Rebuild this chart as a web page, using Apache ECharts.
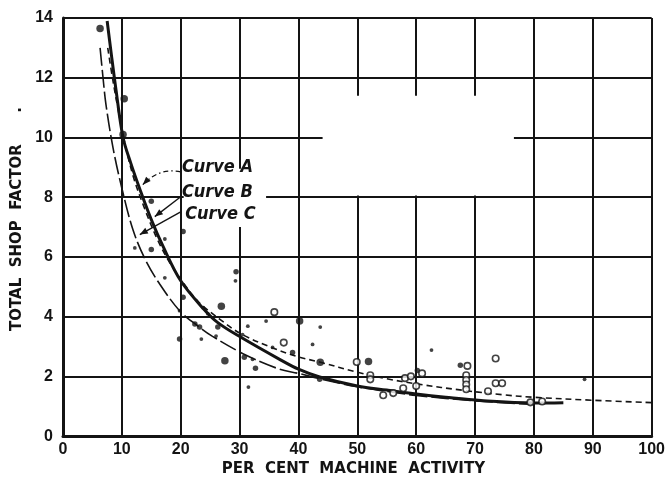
<!DOCTYPE html>
<html>
<head>
<meta charset="utf-8">
<script src="https://cdn.jsdelivr.net/npm/echarts@6/dist/echarts.min.js"></script>
<style>
  html, body { margin: 0; padding: 0; background: #fff; }
  #chart { width: 668px; height: 482px; }
</style>
</head>
<body>
<div id="chart"></div>
<script>
// Tick values
const xTicks = [0, 10, 20, 30, 40, 50, 60, 70, 80, 90, 100];
const yTicks = [0, 2, 4, 6, 8, 10, 12, 14];

// Fitted curves: [per cent machine activity, total shop factor]
const curveA = [
  [7.6, 13.0], [8.4, 12.0], [9.3, 11.0], [10.4, 9.9], [12, 8.65], [14, 7.55],
  [16, 6.6], [18, 5.85], [20, 5.25], [23, 4.5], [26.6, 3.92], [30, 3.45],
  [35, 3.0], [40, 2.65], [43.6, 2.48], [50, 2.14], [55, 1.92], [60, 1.75],
  [68.5, 1.52], [75, 1.38], [80, 1.3], [90, 1.2], [100, 1.12]
];
const curveB = [
  [7.5, 13.9], [8.2, 12.8], [9.0, 11.6], [10.2, 10.0], [11.5, 9.15], [13, 8.3],
  [15, 7.25], [17, 6.35], [20, 5.2], [23.7, 4.3], [26.3, 3.8], [30.3, 3.3],
  [36.8, 2.57], [40, 2.24], [43.6, 1.98], [50, 1.68], [55, 1.54], [60, 1.41],
  [65, 1.3], [71, 1.19], [80, 1.11], [85, 1.12]
];
const curveC = [
  [6.3, 13.0], [6.8, 12.0], [7.3, 11.1], [8.5, 9.65], [10, 8.3], [11.9, 6.9],
  [14, 5.9], [16.4, 5.1], [19.8, 4.2], [22.7, 3.72], [25.4, 3.34], [31.2, 2.7],
  [36.8, 2.24], [40, 2.1], [43.6, 1.92], [50, 1.65], [55, 1.5], [60, 1.36],
  [70, 1.18], [80, 1.06]
];

// Observed shops
const dotsLarge = [
  [6.3, 13.65], [10.4, 11.3], [10.2, 10.1], [26.9, 4.35], [27.5, 2.52],
  [40.2, 3.85], [43.7, 2.47], [51.9, 2.5]
];
const dotsMedium = [
  [15.0, 7.86], [20.4, 6.85], [15.0, 6.25], [20.4, 4.65], [19.8, 3.25],
  [22.4, 3.75], [23.2, 3.65], [26.3, 3.65], [29.4, 5.5], [30.8, 2.64],
  [32.7, 2.27], [39.0, 2.8], [43.6, 1.9], [60.2, 2.2], [67.5, 2.37]
];
const dotsSmall = [
  [12.2, 6.3], [17.3, 5.3], [19.8, 4.2], [23.5, 3.25], [23.8, 4.3], [24.6, 4.1],
  [26.0, 3.35], [30.5, 3.4], [31.4, 3.68], [32.2, 2.57], [31.5, 1.64],
  [34.5, 3.85], [35.6, 2.97], [42.4, 3.07], [43.7, 3.65], [62.6, 2.88],
  [88.6, 1.9], [17.3, 6.6], [29.3, 5.2]
];
const openCircles = [
  [35.9, 4.15], [37.5, 3.13], [49.9, 2.48], [52.2, 2.04], [52.2, 1.9],
  [54.4, 1.37], [56.1, 1.44], [57.8, 1.6], [58.1, 1.94], [59.1, 2.0],
  [60.0, 1.68], [61.0, 2.1], [68.7, 2.35], [68.5, 2.04], [68.5, 1.88],
  [68.5, 1.73], [68.5, 1.57], [72.2, 1.5], [73.5, 2.6], [73.5, 1.77],
  [74.6, 1.77], [79.4, 1.13], [81.4, 1.16]
];

const curveNames = ['Curve A', 'Curve B', 'Curve C'];

// Callout placement in axis units: text anchor, leader start, leader tip
const calloutText = [[20.2, 8.99], [20.2, 8.15], [20.75, 7.42]];
const calloutFrom = [[20.0, 8.85], [19.83, 7.99], [20.07, 7.52]];
const calloutTip = [[13.56, 8.42], [15.6, 7.35], [13.05, 6.75]];
const calloutBend = [16.4, 9.0];

const INK = '#141414';
const tickFont = "'Liberation Sans', Arial, sans-serif";
const titleFont = "'DejaVu Sans', 'Liberation Sans', sans-serif";

const chart = echarts.init(document.getElementById('chart'), null, { renderer: 'canvas' });

function dotSeries(data, size) {
  return {
    type: 'scatter', data: data, symbol: 'circle', symbolSize: size,
    itemStyle: { color: INK }, silent: true, z: 3
  };
}

chart.setOption({
  animation: false,
  backgroundColor: '#fff',
  grid: { left: 63, right: 15, top: 18, bottom: 45 },
  xAxis: {
    type: 'value', min: xTicks[0], max: xTicks[xTicks.length - 1], interval: 10,
    name: 'PER  CENT  MACHINE  ACTIVITY', nameLocation: 'middle', nameGap: 25,
    nameTextStyle: { fontFamily: titleFont, fontWeight: 'bold', fontSize: 15, color: INK, padding: [0, 8, 0, 0] },
    axisLine: { show: true, lineStyle: { color: INK, width: 3 } },
    axisTick: { show: false },
    axisLabel: { fontFamily: tickFont, fontWeight: 'bold', fontSize: 16, color: INK, margin: 5 },
    splitLine: { show: true, lineStyle: { color: INK, width: 2 } }
  },
  yAxis: {
    type: 'value', min: yTicks[0], max: yTicks[yTicks.length - 1], interval: 2,
    name: 'TOTAL  SHOP  FACTOR      .', nameLocation: 'middle', nameGap: 35, nameRotate: 90,
    nameTextStyle: { fontFamily: titleFont, fontWeight: 'bold', fontSize: 15, color: INK, padding: [0, 0, 0, 16] },
    axisLine: { show: true, lineStyle: { color: INK, width: 3 } },
    axisTick: { show: false },
    axisLabel: { fontFamily: tickFont, fontWeight: 'bold', fontSize: 16, color: INK, margin: 10 },
    splitLine: { show: true, lineStyle: { color: INK, width: 2 } }
  },
  series: [
    {
      name: curveNames[0], type: 'line', data: curveA, smooth: 0.35, symbol: 'none',
      lineStyle: { color: INK, width: 1.6, type: [6, 4] }, z: 4, silent: true,
      // blank panels left open in the ruling
      markArea: {
        silent: true,
        itemStyle: { color: '#fff' },
        data: [
          [{ coord: [44.1, 8.06] }, { coord: [76.6, 11.4] }],
          [{ coord: [20.5, 7.0] }, { coord: [34.5, 8.95] }]
        ]
      }
    },
    {
      name: curveNames[1], type: 'line', data: curveB, smooth: 0.35, symbol: 'none',
      lineStyle: { color: INK, width: 3 }, z: 4, silent: true
    },
    {
      name: curveNames[2], type: 'line', data: curveC, smooth: 0.35, symbol: 'none',
      lineStyle: { color: INK, width: 1.6, type: [18, 4] }, z: 4, silent: true
    },
    dotSeries(dotsLarge, 7.5),
    dotSeries(dotsMedium, 5.5),
    dotSeries(dotsSmall, 3.8),
    {
      type: 'scatter', data: openCircles, symbol: 'circle', symbolSize: 6.5,
      itemStyle: { color: '#fff', borderColor: INK, borderWidth: 1.6 }, silent: true, z: 5
    }
  ]
});

// Curve callouts with leader arrows
function px(p) { return chart.convertToPixel({ gridIndex: 0 }, p); }
function arrowHead(tip, from, len, half) {
  const dx = tip[0] - from[0], dy = tip[1] - from[1];
  const d = Math.hypot(dx, dy) || 1;
  const ux = dx / d, uy = dy / d;
  const bx = tip[0] - ux * len, by = tip[1] - uy * len;
  return [tip, [bx - uy * half, by + ux * half], [bx + uy * half, by - ux * half]];
}

const labelFont = "italic bold 18px 'DejaVu Sans Condensed', 'Liberation Sans Narrow', 'DejaVu Sans', sans-serif";
const graphics = [];
curveNames.forEach(function (name, i) {
  const t = px(calloutText[i]);
  graphics.push({
    type: 'text', x: t[0], y: t[1], silent: true, z: 10,
    style: { text: name, font: labelFont, fill: INK, textVerticalAlign: 'middle', textAlign: 'left' }
  });
  const a = px(calloutFrom[i]);
  const b = px(calloutTip[i]);
  let back = a;
  if (i === 0) {
    const c = px(calloutBend);
    back = c;
    graphics.push({
      type: 'bezierCurve', silent: true, z: 10,
      shape: { x1: a[0], y1: a[1], x2: b[0], y2: b[1], cpx1: c[0], cpy1: c[1] },
      style: { stroke: INK, lineWidth: 1.3, fill: null, lineDash: [5, 3, 1.5, 3] }
    });
  } else {
    graphics.push({
      type: 'line', silent: true, z: 10,
      shape: { x1: a[0], y1: a[1], x2: b[0], y2: b[1] },
      style: { stroke: INK, lineWidth: 1.4 }
    });
  }
  graphics.push({
    type: 'polygon', silent: true, z: 10,
    shape: { points: arrowHead(b, back, 8, 3.2) },
    style: { fill: INK }
  });
});
chart.setOption({ graphic: graphics });
</script>
</body>
</html>
